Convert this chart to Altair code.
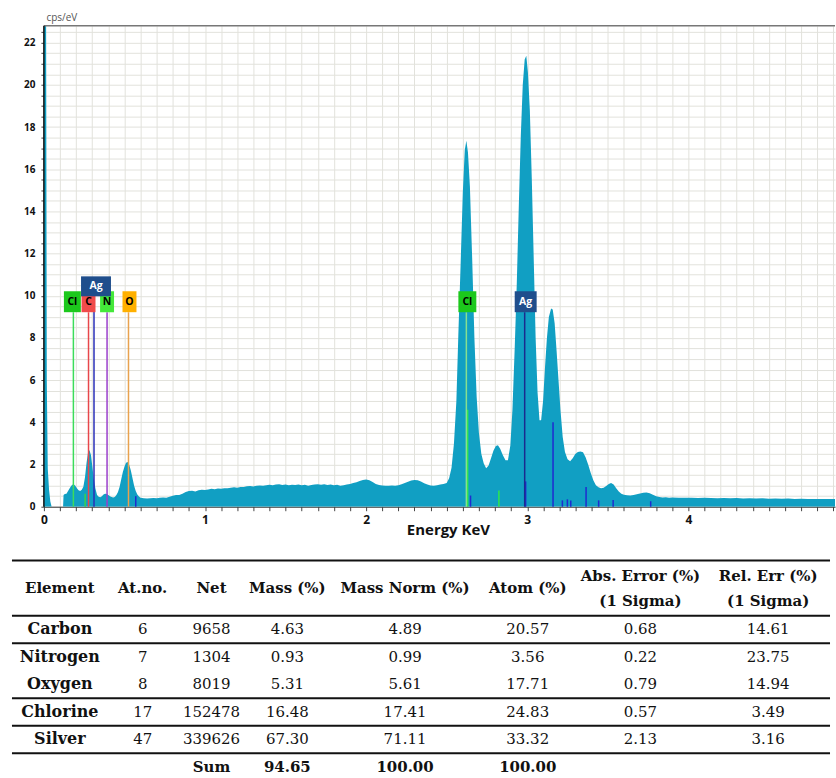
import altair as alt
import pandas as pd

# ---------------- spectrum ----------------
energy_kev = [
    0.000, 0.012, 0.018, 0.024, 0.032, 0.040, 0.048, 0.119, 0.122, 0.130,
    0.140, 0.150, 0.160, 0.170, 0.183, 0.195, 0.205, 0.215, 0.225, 0.235,
    0.245, 0.255, 0.265, 0.275, 0.283, 0.292, 0.300, 0.310, 0.320, 0.330,
    0.340, 0.350, 0.360, 0.370, 0.380, 0.390, 0.400, 0.410, 0.420, 0.430,
    0.440, 0.450, 0.460, 0.470, 0.480, 0.490, 0.500, 0.510, 0.520, 0.530,
    0.540, 0.550, 0.560, 0.570, 0.580, 0.590, 0.600, 0.620, 0.640, 0.660,
    0.680, 0.700, 0.720, 0.740, 0.760, 0.780, 0.800, 0.820, 0.840, 0.860,
    0.880, 0.900, 0.920, 0.940, 0.960, 0.980, 1.000, 1.020, 1.040, 1.060,
    1.080, 1.100, 1.120, 1.140, 1.160, 1.180, 1.200, 1.220, 1.240, 1.260,
    1.280, 1.300, 1.320, 1.340, 1.360, 1.380, 1.400, 1.420, 1.440, 1.460,
    1.480, 1.500, 1.520, 1.540, 1.560, 1.580, 1.600, 1.620, 1.640, 1.660,
    1.680, 1.700, 1.720, 1.740, 1.760, 1.780, 1.800, 1.820, 1.840, 1.860,
    1.880, 1.900, 1.920, 1.940, 1.960, 1.980, 2.000, 2.020, 2.040, 2.060,
    2.080, 2.100, 2.120, 2.140, 2.160, 2.180, 2.200, 2.220, 2.240, 2.260,
    2.280, 2.300, 2.320, 2.340, 2.360, 2.380, 2.400, 2.420, 2.440, 2.460,
    2.480, 2.500, 2.515, 2.530, 2.545, 2.560, 2.572, 2.586, 2.600, 2.612,
    2.622, 2.632, 2.644, 2.658, 2.672, 2.686, 2.700, 2.715, 2.730, 2.745,
    2.760, 2.775, 2.790, 2.805, 2.818, 2.832, 2.848, 2.865, 2.880, 2.895,
    2.908, 2.922, 2.935, 2.948, 2.960, 2.972, 2.984, 2.994, 3.004, 3.016,
    3.028, 3.040, 3.052, 3.064, 3.076, 3.086, 3.098, 3.110, 3.122, 3.134,
    3.148, 3.158, 3.170, 3.182, 3.194, 3.206, 3.220, 3.234, 3.250, 3.266,
    3.282, 3.298, 3.314, 3.330, 3.346, 3.362, 3.378, 3.394, 3.410, 3.426,
    3.442, 3.458, 3.474, 3.490, 3.506, 3.520, 3.536, 3.552, 3.568, 3.584,
    3.600, 3.620, 3.640, 3.660, 3.680, 3.700, 3.720, 3.740, 3.760, 3.780,
    3.800, 3.820, 3.840, 3.860, 3.880, 3.900, 3.940, 3.980, 4.020, 4.060,
    4.100, 4.140, 4.180, 4.220, 4.260, 4.300, 4.340, 4.380, 4.420, 4.460,
    4.500, 4.540, 4.580, 4.620, 4.660, 4.700, 4.740, 4.780, 4.820, 4.860,
    4.910,
]
counts_cps = [
    30.0, 30.0, 6.0, 1.8, 0.8, 0.25, 0.0, 0.0, 0.55, 0.60,
    0.62, 0.75, 0.88, 1.00, 1.08, 1.00, 0.88, 0.78, 0.74, 0.80,
    0.95, 1.40, 2.10, 2.62, 2.68, 2.45, 1.95, 1.30, 0.85, 0.55,
    0.47, 0.45, 0.50, 0.58, 0.62, 0.60, 0.55, 0.50, 0.46, 0.44,
    0.46, 0.55, 0.70, 0.95, 1.30, 1.65, 1.90, 2.08, 2.12, 1.98,
    1.70, 1.35, 1.00, 0.75, 0.58, 0.48, 0.43, 0.40, 0.39, 0.40,
    0.41, 0.40, 0.42, 0.44, 0.43, 0.47, 0.52, 0.56, 0.55, 0.62,
    0.70, 0.74, 0.76, 0.72, 0.78, 0.80, 0.79, 0.82, 0.85, 0.83,
    0.86, 0.85, 0.88, 0.87, 0.90, 0.92, 0.90, 0.94, 0.93, 0.97,
    0.98, 0.96, 1.00, 1.01, 0.99, 1.02, 1.04, 1.02, 1.05, 1.06,
    1.03, 1.05, 1.02, 1.04, 1.03, 1.05, 1.02, 1.04, 1.00, 1.03,
    1.05, 1.06, 1.04, 1.07, 1.03, 1.05, 1.02, 1.04, 1.00, 1.02,
    1.05, 1.08, 1.12, 1.16, 1.22, 1.27, 1.29, 1.25, 1.17, 1.08,
    1.03, 1.01, 1.00, 0.99, 1.01, 1.00, 1.02, 1.06, 1.12, 1.18,
    1.24, 1.27, 1.25, 1.19, 1.11, 1.05, 1.01, 1.00, 1.02, 1.05,
    1.08, 1.12, 1.35, 1.85, 3.00, 5.00, 8.10, 11.4, 14.9, 16.9,
    17.35, 16.8, 15.2, 11.8, 8.0, 5.2, 3.5, 2.5, 2.05, 1.82,
    1.95, 2.30, 2.65, 2.88, 2.92, 2.75, 2.45, 2.20, 2.20, 2.90,
    4.6, 7.5, 10.6, 14.4, 17.6, 20.0, 21.2, 21.38, 20.6, 18.8,
    15.6, 11.8, 8.0, 5.4, 4.1, 4.1, 5.0, 6.6, 8.0, 9.0,
    9.4, 9.35, 8.7, 7.4, 6.0, 4.6, 3.3, 2.6, 2.25, 2.15,
    2.30, 2.50, 2.60, 2.62, 2.58, 2.35, 2.00, 1.60, 1.25, 1.02,
    0.92, 0.88, 0.90, 0.98, 1.08, 1.12, 1.05, 0.88, 0.72, 0.62,
    0.57, 0.54, 0.53, 0.55, 0.59, 0.63, 0.66, 0.67, 0.64, 0.57,
    0.50, 0.46, 0.44, 0.45, 0.43, 0.44, 0.43, 0.42, 0.43, 0.41,
    0.42, 0.41, 0.40, 0.41, 0.40, 0.41, 0.39, 0.40, 0.39, 0.40,
    0.38, 0.39, 0.38, 0.39, 0.37, 0.38, 0.37, 0.36, 0.37, 0.36,
    0.36,
]

# element identification labels
label_text = ["Cl", "C", "Ag", "N", "O", "Cl", "Ag"]
label_energy = [0.183, 0.277, 0.311, 0.392, 0.525, 2.622, 2.984]

# short line markers at the bottom (energy keV, height cps)
marker_energy = [0.256, 0.570, 2.630, 2.648, 2.824, 2.990, 3.160, 3.218, 3.249,
                 3.270, 3.365, 3.443, 3.533, 3.766]
marker_height = [0.62, 0.50, 4.60, 0.53, 0.77, 1.20, 4.00, 0.30, 0.35,
                 0.30, 0.93, 0.30, 0.32, 0.26]
marker_color = ["#37d44f", "#1f2bd0", "#2ee84a", "#1f2bd0", "#2ee84a", "#1f2bd0",
                "#1f2bd0", "#1f2bd0", "#1f2bd0", "#1f2bd0", "#1f2bd0", "#1f2bd0",
                "#1f2bd0", "#1f2bd0"]

# ---------------- table ----------------
elements = ["Carbon", "Nitrogen", "Oxygen", "Chlorine", "Silver"]
at_no = [6, 7, 8, 17, 47]
net = [9658, 1304, 8019, 152478, 339626]
mass = [4.63, 0.93, 5.31, 16.48, 67.30]
mass_norm = [4.89, 0.99, 5.61, 17.41, 71.11]
atom = [20.57, 3.56, 17.71, 24.83, 33.32]
abs_err = [0.68, 0.22, 0.79, 0.57, 2.13]
rel_err = [14.61, 23.75, 14.94, 3.49, 3.16]
sum_mass, sum_mass_norm, sum_atom = 94.65, 100.00, 100.00
headers = ["Element", "At.no.", "Net", "Mass (%)", "Mass Norm (%)", "Atom (%)"]
headers2 = ["Abs. Error (%)\n(1 Sigma)", "Rel. Err (%)\n(1 Sigma)"]

# ---------------- styles / layout ----------------
TEAL = "#119fc3"
GRID = "#e2e2dc"
W, H = 793, 482
box_w = [17, 14, 30, 14, 14, 18, 22]
box_h = [21, 21, 20, 21, 21, 21, 21]
box_fill = ["#1cc81c", "#f04b4b", "#1f4e8c", "#44e83a", "#ffb000", "#1cc81c", "#1f4e8c"]
box_text = ["black", "black", "white", "black", "black", "black", "white"]
box_dx = [-1, 0, 2, 0, 1, 1, 1]
line_col = ["#3cdc5a", "#e8474b", "#2a2fb8", "#9b3fcc", "#e9a24e", "#86e08f", "#1b2a8f"]
box_level = [9.72, 9.72, 10.45, 9.72, 9.72, 9.72, 9.72]
box_bottom = [9.22, 9.22, 9.98, 9.22, 9.22, 9.22, 9.22]
draw_order = [0, 1, 3, 4, 2, 5, 6]
col_center = [16, 99, 168, 244, 362, 485, 598, 726]

spec = pd.DataFrame({"E": energy_kev, "cps": counts_cps})
xt = [round(i / 10, 1) for i in range(50)]
yt = [i / 2 for i in range(46)]

xscale = alt.Scale(domain=[0, 4.91], nice=False, zero=False)
yscale = alt.Scale(domain=[0, 22.8], nice=False)

area = alt.Chart(spec).mark_area(color=TEAL, clip=True, interpolate="linear").encode(
    x=alt.X("E:Q", scale=xscale, axis=alt.Axis(
        values=xt, tickCount=200,
        labelExpr="datum.value % 1 == 0 ? format(datum.value, 'd') : ''",
        labelOverlap=False,
        title="Energy KeV", titleX=405, titleY=16, titleFont="Open Sans",
        titleFontSize=15, titleFontWeight="bold", titleColor="#111",
        grid=True, gridColor=GRID, gridWidth=1, tickSize=4, tickColor="#444",
        domainColor="#333", labelFont="Open Sans", labelFontWeight="bold",
        labelFontSize=12, labelPadding=4, labelFlush=False, labelColor="#111")),
    y=alt.Y("cps:Q", scale=yscale, axis=alt.Axis(
        values=yt, tickCount=200,
        labelExpr="datum.value % 2 == 0 ? format(datum.value, 'd') : ''",
        labelOverlap=False,
        title="cps/eV", titleAngle=0, titleX=2, titleY=-3, titleAlign="left",
        titleBaseline="bottom", titleFont="Open Sans", titleFontSize=10,
        titleFontWeight="normal", titleColor="#555",
        grid=True, gridColor=GRID, gridWidth=1, tickSize=3, tickColor="#444",
        domainColor="#111", labelFont="Open Sans", labelFontWeight="bold",
        labelFontSize=10, labelPadding=6, labelColor="#111")),
)

mk = pd.DataFrame({"E": marker_energy, "h": marker_height, "col": marker_color, "cps": 0.0})
markers = alt.Chart(mk).mark_rule(strokeWidth=1.5).encode(
    x=alt.X("E:Q", scale=xscale),
    y=alt.Y("cps:Q", scale=yscale), y2="h:Q",
    color=alt.Color("col:N", scale=None))

layers = [area, markers]
for i in draw_order:
    d = pd.DataFrame({"E": [label_energy[i]], "cps": [0.0], "yb": [box_bottom[i]]})
    layers.append(alt.Chart(d).mark_rule(strokeWidth=1.5, color=line_col[i]).encode(
        x=alt.X("E:Q", scale=xscale),
        y=alt.Y("cps:Q", scale=yscale), y2="yb:Q"))
for i in draw_order:
    d = pd.DataFrame({"E": [label_energy[i]], "name": [label_text[i]],
                      "cps": [box_level[i]]})
    base = alt.Chart(d)
    layers.append(base.mark_rect(width=box_w[i], height=box_h[i], color=box_fill[i],
                                 xOffset=box_dx[i]).encode(
        x=alt.X("E:Q", scale=xscale),
        y=alt.Y("cps:Q", scale=yscale)))
    layers.append(base.mark_text(font="Open Sans", fontWeight="bold", fontSize=10.5,
                                 color=box_text[i], dx=box_dx[i]).encode(
        x=alt.X("E:Q", scale=xscale),
        y=alt.Y("cps:Q", scale=yscale), text="name:N"))

frame = alt.Chart(pd.DataFrame({"k": [0]}))
layers.append(frame.mark_rule(color="#777", strokeWidth=1.5).encode(
    y=alt.value(0), x=alt.value(0), x2=alt.value(W)))
layers.append(frame.mark_rule(color="#111", strokeWidth=1.5).encode(
    x=alt.value(0), y=alt.value(0), y2=alt.value(H)))

top = alt.layer(*layers).properties(width=W, height=H)

# ---------------- table chart ----------------
TW_H = 213
tscale_y = alt.Scale(domain=[-2.5, 5.22], nice=False, zero=False, reverse=True)
tscale_x = alt.Scale(domain=[0, W], nice=False, zero=False)

rows_val = []
for i in range(len(elements)):
    vals = [str(at_no[i]), str(net[i]), f"{mass[i]:.2f}", f"{mass_norm[i]:.2f}",
            f"{atom[i]:.2f}", f"{abs_err[i]:.2f}", f"{rel_err[i]:.2f}"]
    for j, v in enumerate(vals):
        rows_val.append({"px": col_center[j + 1], "row": i, "t": v})
names_df = pd.DataFrame({"px": col_center[0], "row": list(range(len(elements))), "t": elements})
head_df = pd.DataFrame({"px": col_center[:6], "row": -1.5, "t": headers})
head2_df = pd.DataFrame({"px": col_center[6:], "row": -1.5, "t": headers2})
sum_df = pd.DataFrame({"px": col_center[2:6], "row": 5,
                       "t": ["Sum", f"{sum_mass:.2f}", f"{sum_mass_norm:.2f}", f"{sum_atom:.2f}"]})
rules_df = pd.DataFrame({"row": [-2.5, -0.5, 0.5, 2.5, 3.5, 4.5]})

def txt(df, weight, size, dy=0):
    return alt.Chart(df).mark_text(font="DejaVu Serif", fontWeight=weight, fontSize=size,
                                   color="#111", baseline="middle", align="center",
                                   lineBreak="\n", lineHeight=25, dy=dy).encode(
        x=alt.X("px:Q", scale=tscale_x, axis=None),
        y=alt.Y("row:Q", scale=tscale_y, axis=None),
        text="t:N")

trules = alt.Chart(rules_df).mark_rule(strokeWidth=2, color="#111").encode(
    y=alt.Y("row:Q", scale=tscale_y, axis=None), x=alt.value(-32), x2=alt.value(788))

table = alt.layer(
    trules,
    txt(head_df, "bold", 15),
    txt(head2_df, "bold", 15, dy=-12),
    txt(names_df, "bold", 16),
    txt(pd.DataFrame(rows_val), "normal", 15),
    txt(sum_df, "bold", 15),
).properties(width=W, height=TW_H)

chart = alt.vconcat(top, table, spacing=22).properties(
    padding={"left": 11, "top": 12, "right": 0, "bottom": 0},
    background="white",
).configure_view(stroke=None)

chart.save("out.html", embed_options={"renderer": "svg", "actions": False})
